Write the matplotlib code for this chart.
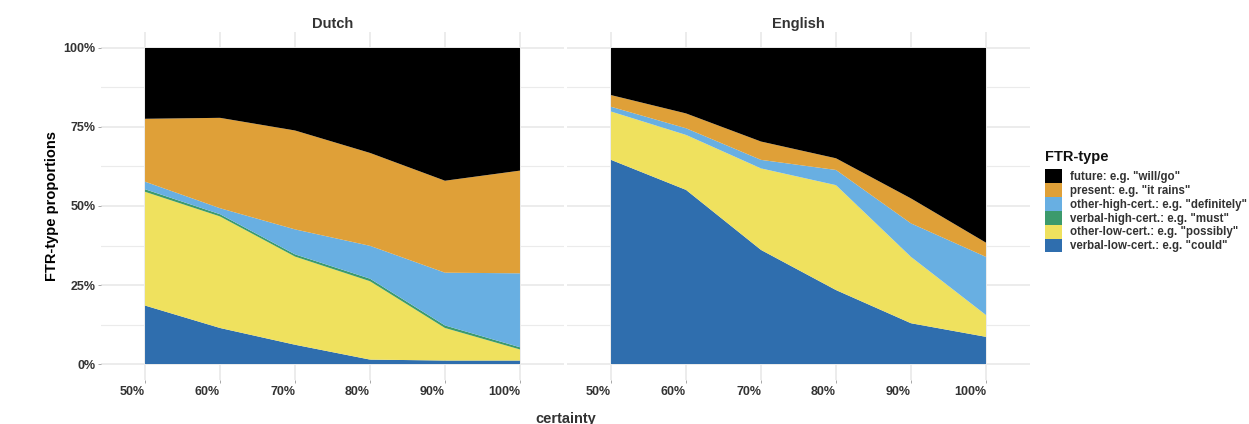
import matplotlib.pyplot as plt
from matplotlib.patches import Patch
from matplotlib.ticker import FixedLocator

plt.rcParams['font.family'] = ['Liberation Sans', 'DejaVu Sans']

# certainty levels (x axis)
certainty = [50, 60, 70, 80, 90, 100]
tick_labels = ['50%', '60%', '70%', '80%', '90%', '100%']

# FTR-type shares per certainty level, in percent (bottom to top of the stack)
dutch_verbal_low = [18.5, 11.4, 6.1, 1.4, 1.1, 1.1]
dutch_other_low = [36.0, 35.3, 27.9, 24.8, 10.3, 3.5]
dutch_verbal_high = [0.8, 0.7, 0.7, 0.8, 0.8, 0.7]
dutch_other_high = [2.4, 1.9, 7.9, 10.4, 16.7, 23.4]
dutch_present = [19.9, 28.6, 31.3, 29.4, 29.1, 32.5]
dutch_future = [22.4, 22.1, 26.1, 33.2, 42.0, 38.8]

english_verbal_low = [64.6, 55.1, 36.1, 23.4, 12.9, 8.6]
english_other_low = [15.3, 17.4, 25.8, 33.2, 21.0, 6.9]
english_verbal_high = [0.0, 0.0, 0.0, 0.0, 0.0, 0.0]
english_other_high = [1.5, 2.1, 2.7, 4.8, 10.6, 18.4]
english_present = [3.7, 4.7, 5.8, 3.7, 7.9, 4.5]
english_future = [14.9, 20.7, 29.6, 34.9, 47.6, 61.6]

ftr_labels = ['verbal-low-cert.: e.g. "could"',
              'other-low-cert.: e.g. "possibly"',
              'verbal-high-cert.: e.g. "must"',
              'other-high-cert.: e.g. "definitely"',
              'present: e.g. "it rains"',
              'future: e.g. "will/go"']
ftr_colors = ['#2F6EAE', '#EFE15E', '#3C9A6C', '#68AFE2', '#DFA038', '#000000']

panels = {
    'Dutch': [dutch_verbal_low, dutch_other_low, dutch_verbal_high,
              dutch_other_high, dutch_present, dutch_future],
    'English': [english_verbal_low, english_other_low, english_verbal_high,
                english_other_high, english_present, english_future],
}

W, H = 1249, 424
fig = plt.figure(figsize=(W / 100, H / 100), dpi=100)

grid_col = '#EBEBEB'
text_col = '#333333'
lefts = [101, 567]
panel_w, top, bottom = 463, 32, 380

for i, (lang, series) in enumerate(panels.items()):
    ax = fig.add_axes([lefts[i] / W, 1 - bottom / H, panel_w / W, (bottom - top) / H])
    ax.stackplot(certainty, *series, colors=ftr_colors, linewidth=0, zorder=2)

    ax.set_xlim(44.13, 105.87)
    ax.set_ylim(-5.06, 105.06)
    ax.set_xticks(certainty)
    ax.set_xticklabels(tick_labels, ha='right')
    ax.set_yticks([0, 25, 50, 75, 100])
    ax.yaxis.set_minor_locator(FixedLocator([12.5, 37.5, 62.5, 87.5]))

    ax.grid(True, which='major', color=grid_col, linewidth=1.3, zorder=0)
    ax.grid(True, which='minor', axis='y', color=grid_col, linewidth=0.8, zorder=0)
    ax.set_axisbelow(True)
    for sp in ax.spines.values():
        sp.set_visible(False)

    ax.tick_params(axis='both', which='major', length=2.5, width=0.6,
                   color='#999999', labelcolor=text_col, labelsize=9, pad=1.5)
    ax.tick_params(axis='y', which='minor', length=0)

    if i == 0:
        ax.set_yticklabels(['0%', '25%', '50%', '75%', '100%'])
        ax.set_ylabel('FTR-type proportions', fontsize=10.5, fontweight='bold',
                      labelpad=3)
    else:
        ax.set_yticklabels([])
        ax.tick_params(axis='y', which='major', length=0)

    for lab in ax.get_xticklabels() + ax.get_yticklabels():
        lab.set_fontweight('bold')

    ax.set_title(lang, fontsize=10.5, fontweight='bold', color=text_col, pad=3)

fig.text(565.5 / W, 1 - 412 / H, 'certainty', ha='center', va='top',
         fontsize=10.5, fontweight='bold', color=text_col)

# legend: title set on its own so the gap above the keys can be wider
fig.text(1045 / W, 1 - 157 / H, 'FTR-type', ha='left', va='center',
         fontsize=10.5, fontweight='bold', color='#111111')
handles = [Patch(facecolor=c, edgecolor='none') for c in ftr_colors][::-1]
leg = fig.legend(handles, ftr_labels[::-1], loc='upper left',
                 bbox_to_anchor=(1045 / W, 1 - 169 / H), frameon=False,
                 fontsize=8.3, handlelength=1.45, handleheight=1.48,
                 handletextpad=0.7, labelspacing=0, borderpad=0,
                 borderaxespad=0)
for t in leg.get_texts():
    t.set_fontweight('bold')
    t.set_color(text_col)

fig.savefig('out.png', dpi=100)
